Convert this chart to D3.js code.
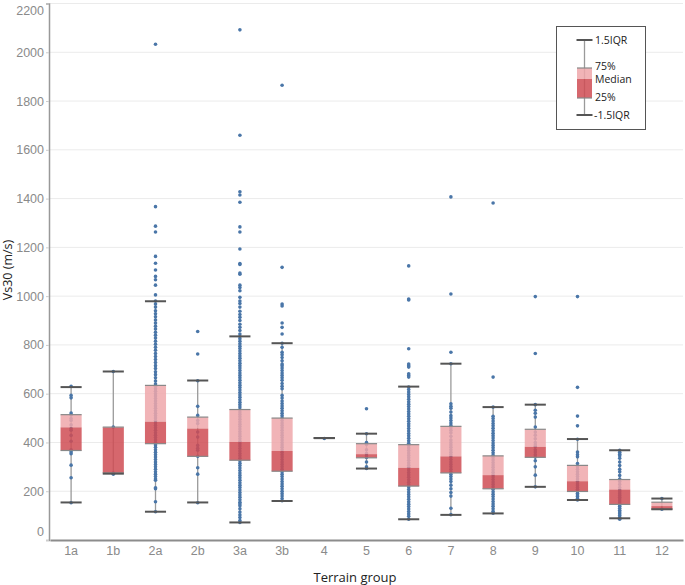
<!DOCTYPE html>
<html>
<head>
<meta charset="utf-8">
<script src="https://cdn.jsdelivr.net/npm/d3@7"></script>
<style>
  body { margin: 0; background: #fff; }
  svg { font-family: "Open Sans", "Noto Sans", sans-serif; }
</style>
</head>
<body>
<div id="chart"></div>
<script>
// Categories and box statistics
const categories = ["1a", "1b", "2a", "2b", "3a", "3b", "4", "5", "6", "7", "8", "9", "10", "11", "12"];
const whiskerHigh = [627, 691, 979, 654, 835, 807, 418, 436, 629, 723, 545, 555, 414, 368, 170];
const q3Values     = [514, 463, 634, 504, 535, 500, 418, 395, 391, 466, 345, 454, 306, 248, 155];
const medianValues = [462, 462, 485, 457, 402, 365, 418, 352, 296, 343, 266, 382, 241, 207, 139];
const q1Values     = [367, 275, 395, 343, 327, 282, 418, 337, 221, 275, 210, 339, 199, 146, 126];
const whiskerLow   = [154, 272, 116, 154,  72, 160, 418, 293,  85, 103, 109, 218, 164,  89, 126];
const yTicks = [0, 200, 400, 600, 800, 1000, 1200, 1400, 1600, 1800, 2000, 2200];

// Individual sites per terrain group
const pts1a = [630, 593, 583, 521, 513, 498, 490, 472, 457, 450, 429, 405, 370, 362, 354, 307, 255, 153];
const pts1b = [691, 463, 275, 270];
const pts2a = [2033, 1367, 1287, 1263, 1163, 1135, 1107, 1081, 1067, 1045, 1005, 980, 968, 955, 940, 928, 915,
  902, 890, 877, 865, 852, 840, 828, 815, 803, 790, 778, 765, 752, 740, 728, 715, 703, 690, 678, 665, 652, 640,
  630, 620, 610, 600, 590, 580, 570, 560, 550, 540, 530, 520, 510, 500, 490, 480, 470, 460, 450, 440, 430, 420,
  410, 400, 390, 380, 370, 360, 350, 340, 330, 320, 310, 300, 290, 280, 270, 260, 250, 245, 214, 210, 157, 116];
const pts2b = [855, 763, 653, 548, 511, 490, 478, 443, 422, 388, 376, 368, 343, 296, 270, 153];
const pts3a = [2092, 1660, 1428, 1415, 1385, 1284, 1263, 1193, 1134, 1130, 1095, 1090, 1045, 1035, 1022, 995, 980,
  970, 955, 938, 925, 913, 900, 885, 872, 859, 845, 834, 825, 815, 805, 795, 785, 775, 765, 755, 745, 735, 725,
  715, 705, 695, 685, 675, 665, 655, 645, 635, 625, 615, 605, 595, 585, 575, 565, 555, 545, 535, 525, 515, 505,
  495, 485, 475, 465, 455, 445, 435, 425, 415, 405, 395, 385, 375, 365, 355, 345, 335, 325, 315, 305, 295, 285,
  275, 265, 255, 245, 235, 225, 215, 205, 195, 185, 175, 165, 155, 148, 140, 128, 115, 103, 92, 80, 72];
const pts3b = [1865, 1118, 968, 960, 890, 872, 845, 807, 790, 770, 760, 748, 735, 722, 715, 705, 695, 685, 675,
  665, 655, 642, 630, 620, 593, 582, 570, 560, 550, 540, 530, 520, 510, 500, 490, 480, 470, 460, 450, 440, 430,
  420, 410, 400, 390, 380, 370, 360, 350, 340, 330, 320, 310, 300, 290, 280, 270, 260, 250, 240, 230, 220, 210,
  200, 190, 180, 170, 161];
const pts4 = [416];
const pts5 = [538, 436, 400, 392, 370, 355, 345, 338, 320, 300, 293];
const pts6 = [1124, 988, 984, 784, 722, 715, 709, 682, 675, 668, 627, 617, 607, 597, 587, 577, 567, 557, 547, 537,
  527, 517, 507, 497, 487, 477, 467, 457, 447, 437, 427, 417, 407, 397, 387, 377, 367, 357, 347, 337, 327, 317,
  307, 297, 287, 277, 267, 257, 247, 237, 227, 217, 207, 197, 187, 177, 167, 157, 147, 137, 127, 117, 107, 97, 85];
const pts7 = [1407, 1009, 770, 723, 559, 548, 540, 525, 510, 500, 490, 480, 470, 460, 450, 440, 425, 410, 400, 390,
  380, 370, 360, 350, 340, 330, 320, 310, 300, 290, 280, 270, 260, 250, 240, 225, 210, 195, 180, 130, 104];
const pts8 = [1382, 668, 545, 507, 498, 488, 478, 468, 458, 448, 438, 428, 418, 408, 398, 388, 378, 368, 358, 348,
  338, 328, 318, 308, 298, 288, 278, 268, 258, 248, 238, 228, 218, 208, 198, 188, 178, 168, 158, 148, 138, 128,
  118, 110];
const pts9 = [998, 765, 555, 532, 520, 504, 463, 443, 430, 415, 400, 390, 382, 370, 361, 350, 340, 325, 300, 266, 218];
const pts10 = [998, 626, 508, 468, 413, 361, 350, 341, 314, 300, 290, 280, 270, 260, 250, 240, 230, 222, 215, 208,
  200, 192, 185, 178, 170, 164];
const pts11 = [368, 360, 352, 345, 335, 320, 305, 290, 280, 265, 250, 240, 228, 215, 205, 198, 190, 182, 175, 168,
  160, 152, 145, 138, 130, 122, 115, 108, 100, 92, 85];
const pts12 = [170, 126];
const groupPoints = [pts1a, pts1b, pts2a, pts2b, pts3a, pts3b, pts4, pts5, pts6, pts7, pts8, pts9, pts10, pts11, pts12];

// Colours
const lightBox = "#efa7aa";
const darkBox = "#cf4c53";
const dotColor = "#4a76a8";
const capColor = "#555";
const tickColor = "#8a8a8a";

const W = 685, H = 585;
const svg = d3.select("#chart").append("svg")
    .attr("width", W)
    .attr("height", H);

// Scales
const x = d3.scaleBand()
    .domain(categories)
    .range([50, 683])
    .padding(0);

const y = d3.scaleLinear()
    .domain([0, 2200])
    .range([540, 3.5]);

const boxW = x.bandwidth() * 0.5;
const cx = d => x(d) + x.bandwidth() / 2;

// Grid lines
svg.append("g")
    .selectAll("line")
    .data(yTicks.slice(1))
    .enter()
    .append("line")
    .attr("x1", 50).attr("x2", 683)
    .attr("y1", d => y(d)).attr("y2", d => y(d))
    .attr("stroke", "#ebebeb")
    .attr("stroke-width", 1);

// Y axis
const yAxis = svg.append("g")
    .attr("transform", "translate(49,0)")
    .call(d3.axisLeft(y).tickValues(yTicks).tickFormat(d3.format("d")).tickSize(3).tickPadding(2));
yAxis.select(".domain").attr("stroke", "#999").attr("stroke-width", 1.5);
yAxis.selectAll(".tick line").attr("stroke", "#ccc");
yAxis.selectAll(".tick text")
    .attr("fill", tickColor)
    .style("font-size", "12.5px")
    .attr("dy", d => d === 2200 ? "0.9em" : d === 0 ? "-0.35em" : "0.32em");

// X axis
const xAxis = svg.append("g")
    .attr("transform", "translate(0,540)")
    .call(d3.axisBottom(x).tickSize(0).tickPadding(6));
xAxis.select(".domain").attr("stroke", "#8c8c8c").attr("stroke-width", 2.2);
xAxis.selectAll(".tick text")
    .attr("fill", tickColor)
    .style("font-size", "12.5px");

// Axis titles
svg.append("text")
    .attr("transform", "translate(12,270) rotate(-90)")
    .attr("text-anchor", "middle")
    .style("font-size", "12.5px")
    .attr("fill", "#222")
    .text("Vs30 (m/s)");

svg.append("text")
    .attr("x", 355)
    .attr("y", 582)
    .attr("text-anchor", "middle")
    .style("font-size", "13px")
    .attr("fill", "#222")
    .text("Terrain group");

// Whisker stems
svg.append("g")
    .selectAll("line")
    .data(categories)
    .enter()
    .append("line")
    .attr("x1", d => cx(d)).attr("x2", d => cx(d))
    .attr("y1", (d, i) => y(whiskerLow[i]))
    .attr("y2", (d, i) => y(whiskerHigh[i]))
    .attr("stroke", "#9a9a9a")
    .attr("stroke-width", 1.3);

// Points
categories.forEach((c, i) => {
    svg.append("g")
        .selectAll("circle")
        .data(groupPoints[i])
        .enter()
        .append("circle")
        .attr("cx", cx(c))
        .attr("cy", d => y(d))
        .attr("r", 1.8)
        .attr("fill", dotColor);
});

// Boxes: upper (median to Q3) and lower (Q1 to median)
const boxes = svg.append("g");
boxes.selectAll(".upper")
    .data(categories)
    .enter()
    .append("rect")
    .attr("class", "upper")
    .attr("x", d => cx(d) - boxW / 2)
    .attr("width", boxW)
    .attr("y", (d, i) => y(q3Values[i]))
    .attr("height", (d, i) => y(medianValues[i]) - y(q3Values[i]))
    .attr("fill", lightBox)
    .attr("fill-opacity", 0.85);

boxes.selectAll(".lower")
    .data(categories)
    .enter()
    .append("rect")
    .attr("class", "lower")
    .attr("x", d => cx(d) - boxW / 2)
    .attr("width", boxW)
    .attr("y", (d, i) => y(medianValues[i]))
    .attr("height", (d, i) => y(q1Values[i]) - y(medianValues[i]))
    .attr("fill", darkBox)
    .attr("fill-opacity", 0.85);

// Box edges (Q1 and Q3)
[q3Values, q1Values].forEach(vals => {
    boxes.append("g")
        .selectAll("line")
        .data(categories)
        .enter()
        .append("line")
        .attr("x1", d => cx(d) - boxW / 2)
        .attr("x2", d => cx(d) + boxW / 2)
        .attr("y1", (d, i) => y(vals[i]))
        .attr("y2", (d, i) => y(vals[i]))
        .attr("stroke", "#888")
        .attr("stroke-width", 1.2);
});

// Whisker caps
[whiskerHigh, whiskerLow].forEach(vals => {
    svg.append("g")
        .selectAll("line")
        .data(categories)
        .enter()
        .append("line")
        .attr("x1", d => cx(d) - boxW / 2)
        .attr("x2", d => cx(d) + boxW / 2)
        .attr("y1", (d, i) => y(vals[i]))
        .attr("y2", (d, i) => y(vals[i]))
        .attr("stroke", capColor)
        .attr("stroke-width", 2);
});

// Legend
const legend = svg.append("g");
legend.append("rect")
    .attr("x", 556.5).attr("y", 26.5)
    .attr("width", 89).attr("height", 103)
    .attr("fill", "#fff")
    .attr("stroke", "#555")
    .attr("stroke-width", 1);

const lx = 584.5, lw = 15;
legend.append("line")
    .attr("x1", lx).attr("x2", lx)
    .attr("y1", 40).attr("y2", 115)
    .attr("stroke", "#9a9a9a").attr("stroke-width", 1.3);
legend.append("rect")
    .attr("x", lx - lw / 2).attr("y", 68)
    .attr("width", lw).attr("height", 11)
    .attr("fill", lightBox).attr("fill-opacity", 0.85);
legend.append("rect")
    .attr("x", lx - lw / 2).attr("y", 79)
    .attr("width", lw).attr("height", 19)
    .attr("fill", darkBox).attr("fill-opacity", 0.85);
[68, 98].forEach(v => {
    legend.append("line")
        .attr("x1", lx - lw / 2).attr("x2", lx + lw / 2)
        .attr("y1", v).attr("y2", v)
        .attr("stroke", "#888").attr("stroke-width", 1.2);
});
[40, 115].forEach(v => {
    legend.append("line")
        .attr("x1", lx - 8).attr("x2", lx + 8)
        .attr("y1", v).attr("y2", v)
        .attr("stroke", capColor).attr("stroke-width", 2);
});

const legendLabels = [
    { t: "1.5IQR", x: 595, y: 40 },
    { t: "75%", x: 595, y: 66 },
    { t: "Median", x: 595, y: 79 },
    { t: "25%", x: 595, y: 97 },
    { t: "-1.5IQR", x: 594, y: 115 }
];
legend.selectAll(".ltxt")
    .data(legendLabels)
    .enter()
    .append("text")
    .attr("x", d => d.x)
    .attr("y", d => d.y)
    .attr("dy", "0.35em")
    .style("font-size", "10.5px")
    .attr("fill", "#222")
    .text(d => d.t);
</script>
</body>
</html>
